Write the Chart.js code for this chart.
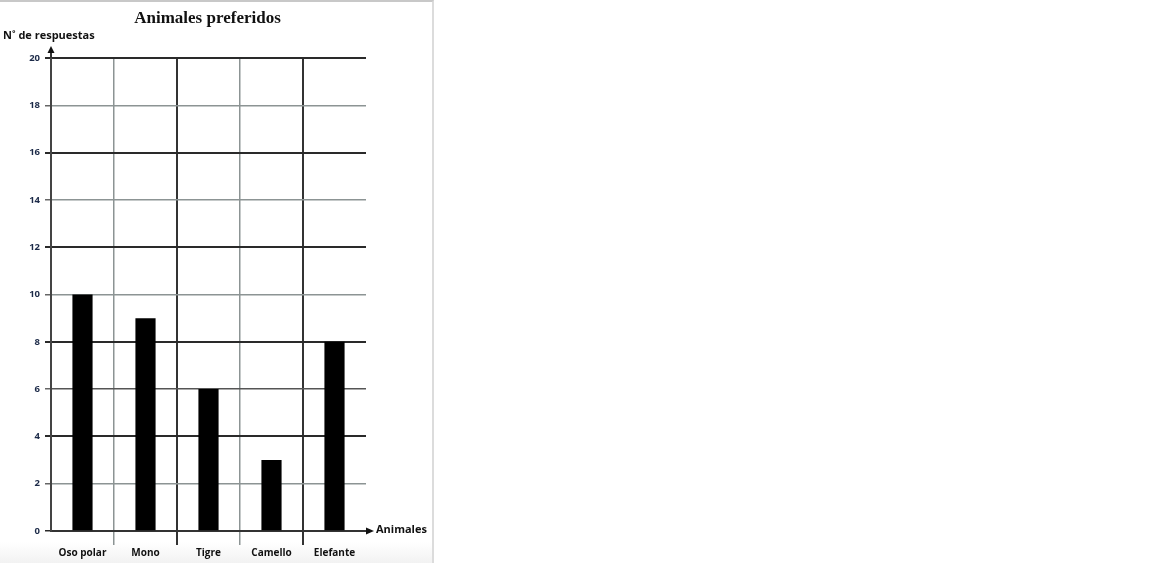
<!DOCTYPE html>
<html>
<head>
<meta charset="utf-8">
<script src="https://cdn.jsdelivr.net/npm/chart.js@4"></script>
<style>
  html, body { margin: 0; padding: 0; background: #fff; }
  body { width: 1152px; height: 564px; overflow: hidden; position: relative; }
  #frame { position: absolute; left: 0; top: 0; width: 432px; height: 561px;
           border-top: 2px solid #c8c8c8; border-right: 2px solid #dcdcdc;
           background: linear-gradient(to bottom, #fff 0, #fff 540px, #f2f2f2 561px); }
  #wrap { position: absolute; left: 0; top: 0; width: 434px; height: 564px; }
</style>
</head>
<body>
<div id="frame"></div>
<div id="wrap"><canvas id="c"></canvas></div>
<script>
const categories = ["Oso polar", "Mono", "Tigre", "Camello", "Elefante"];
const values = [10, 9, 6, 3, 8];
const yTicks = [0, 2, 4, 6, 8, 10, 12, 14, 16, 18, 20];
const titleText = "Animales preferidos";
const yAxisLabel = "N˚ de respuestas";
const xAxisLabel = "Animales";

const arrows = {
  id: 'arrows',
  afterDraw(chart) {
    const { ctx, chartArea } = chart;
    const x0 = chartArea.left, y0 = chartArea.bottom;
    ctx.save();
    ctx.strokeStyle = '#333';
    ctx.fillStyle = '#111';
    ctx.lineWidth = 2;
    // y axis extension + arrow
    ctx.beginPath();
    ctx.moveTo(x0, chartArea.top);
    ctx.lineTo(x0, chartArea.top - 6);
    ctx.stroke();
    ctx.beginPath();
    ctx.moveTo(x0, chartArea.top - 12);
    ctx.lineTo(x0 - 3.5, chartArea.top - 5);
    ctx.lineTo(x0 + 3.5, chartArea.top - 5);
    ctx.closePath();
    ctx.fill();
    // x axis arrow
    ctx.beginPath();
    ctx.moveTo(chartArea.right - 1, y0);
    ctx.lineTo(chartArea.right + 2, y0);
    ctx.stroke();
    ctx.beginPath();
    ctx.moveTo(chartArea.right + 8, y0);
    ctx.lineTo(chartArea.right, y0 - 3.5);
    ctx.lineTo(chartArea.right, y0 + 3.5);
    ctx.closePath();
    ctx.fill();
    // labels
    ctx.fillStyle = '#111';
    ctx.font = 'bold 11px "Open Sans", "Noto Sans", sans-serif';
    ctx.textBaseline = 'middle';
    ctx.textAlign = 'left';
    ctx.fillText(xAxisLabel, chartArea.right + 10, y0 - 1);
    ctx.fillText(yAxisLabel, 3, chartArea.top - 22);
    // title centred over the plot area
    ctx.textAlign = 'center';
    ctx.font = 'bold 17px "Liberation Serif", "DejaVu Serif", serif';
    ctx.fillText(titleText, (chartArea.left + chartArea.right) / 2 - 1, chartArea.top - 39);
    ctx.restore();
  }
};

const darkH = new Set([20, 16, 12, 8, 4]);
const isEdge = (c) => c.type !== 'tick' || c.index === 0;

new Chart(document.getElementById('c'), {
  type: 'bar',
  data: {
    labels: categories,
    datasets: [{
      data: values,
      backgroundColor: '#000',
      borderWidth: 0,
      categoryPercentage: 1,
      barPercentage: 0.32
    }]
  },
  options: {
    responsive: true,
    maintainAspectRatio: false,
    animation: false,
    layout: { padding: { left: 0, right: 68, top: 58, bottom: 0 } },
    plugins: {
      legend: { display: false },
      tooltip: { enabled: false },
      title: { display: false }
    },
    scales: {
      x: {
        afterFit(scale) { scale.height = 33; },
        grid: {
          offset: true,
          drawTicks: true,
          tickLength: 14,
          lineWidth: (c) => (c.index % 2 === 0 ? 2 : 1.5),
          color: (c) => {
            if (isEdge(c)) return 'rgba(0,0,0,0)';
            return c.index % 2 === 0 ? '#333' : '#8c9494';
          },
          tickColor: (c) => {
            if (isEdge(c)) return 'rgba(0,0,0,0)';
            return c.index % 2 === 0 ? '#333' : '#8c9494';
          }
        },
        border: { display: true, color: '#333', width: 2 },
        ticks: {
          color: '#111',
          font: { family: '"Open Sans", "Noto Sans", sans-serif', size: 10, weight: 'bold' },
          padding: 2,
          maxRotation: 0
        }
      },
      y: {
        min: 0,
        max: 20,
        afterFit(scale) { scale.width = 51; },
        afterBuildTicks(scale) { scale.ticks = yTicks.map(v => ({ value: v })); },
        grid: {
          drawTicks: true,
          tickLength: 6,
          lineWidth: (c) => (darkH.has(c.tick.value) ? 2 : 1.5),
          color: (c) => {
            if (c.tick.value === 0) return 'rgba(0,0,0,0)';
            if (darkH.has(c.tick.value)) return '#2a2a2a';
            if (c.tick.value === 6) return '#555';
            return '#8c9494';
          },
          tickColor: (c) => (darkH.has(c.tick.value) || c.tick.value === 0 ? '#2a2a2a' : '#666')
        },
        border: { display: true, color: '#444', width: 2 },
        ticks: {
          color: '#1c2a48',
          font: { family: '"Open Sans", "Noto Sans", sans-serif', size: 9.5, weight: 'bold' },
          padding: 5
        }
      }
    }
  },
  plugins: [arrows]
});
</script>
</body>
</html>
